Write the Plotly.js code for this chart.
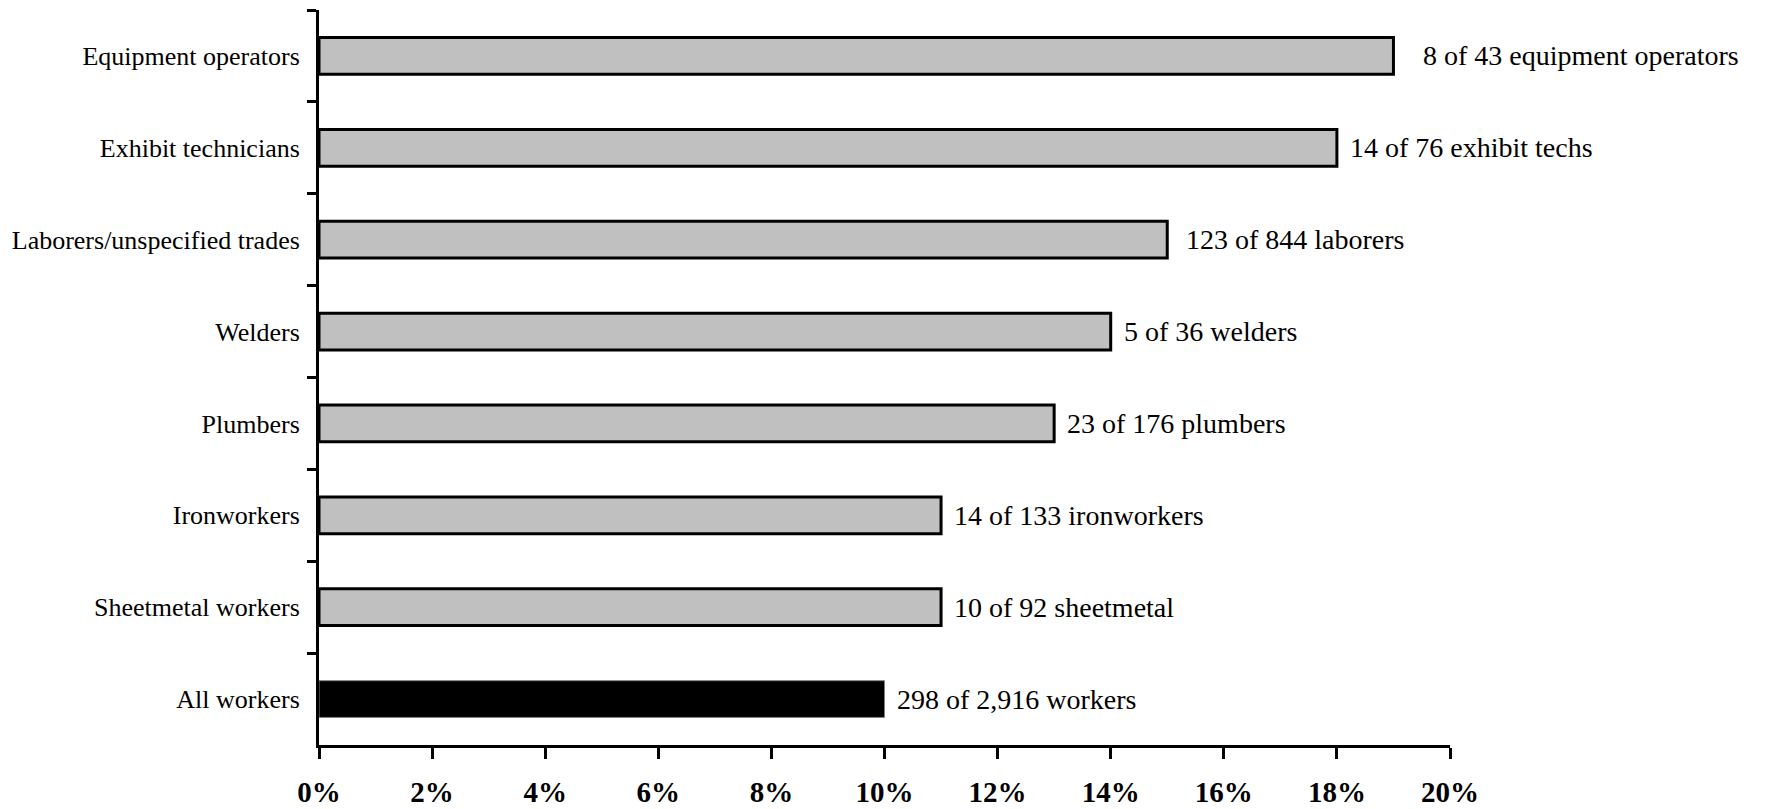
<!DOCTYPE html>
<html>
<head>
<meta charset="utf-8">
<script src="https://cdn.plot.ly/plotly-3.0.1.min.js"></script>
<style>
  html, body { margin: 0; padding: 0; background: #ffffff; }
  #chart { width: 1767px; height: 809px; }
</style>
</head>
<body>
<div id="chart"></div>
<script>
// Occupations, listed top to bottom
const categories = [
  "Equipment operators",
  "Exhibit technicians",
  "Laborers/unspecified trades",
  "Welders",
  "Plumbers",
  "Ironworkers",
  "Sheetmetal workers",
  "All workers"
];

// Share of workers affected, percent
const percentValues = [19, 18, 15, 14, 13, 11, 11, 10];

// Count labels shown beside each bar
const countLabels = [
  "8 of 43 equipment operators",
  "14 of 76 exhibit techs",
  "123 of 844 laborers",
  "5 of 36 welders",
  "23 of 176 plumbers",
  "14 of 133 ironworkers",
  "10 of 92 sheetmetal",
  "298 of 2,916 workers"
];

// X axis tick values
const xTickValues = [0, 2, 4, 6, 8, 10, 12, 14, 16, 18, 20];
const xTickLabels = xTickValues.map(v => v + "%");

const serif = "Liberation Serif, Times New Roman, serif";

// the overall group is drawn in black, the trades in grey
const barFill = categories.map(c => c === "All workers" ? "#000000" : "#c0c0c0");
const barLineColor = categories.map(c => c === "All workers" ? "#808080" : "#000000");
const barLineWidth = categories.map(c => c === "All workers" ? 1 : 3);
// gap between bar end and its label
const labelGap = [28, 11, 17, 11, 11, 11, 11, 10];

const trace = {
  type: "bar",
  orientation: "h",
  x: percentValues,
  y: categories,
  marker: {
    color: barFill,
    line: { color: barLineColor, width: barLineWidth }
  },
  width: 0.4,
  hoverinfo: "skip",
  showlegend: false
};

const annotations = categories.map((c, i) => ({
  x: percentValues[i],
  y: c,
  xref: "x",
  yref: "y",
  text: countLabels[i],
  showarrow: false,
  xanchor: "left",
  yanchor: "middle",
  xshift: labelGap[i],
  font: { family: serif, size: 28, color: "#000000" }
}));

const layout = {
  width: 1767,
  height: 809,
  margin: { l: 319, r: 317, t: 10, b: 64, pad: 0 },
  paper_bgcolor: "#ffffff",
  plot_bgcolor: "#ffffff",
  xaxis: {
    range: [0, 20],
    tickmode: "array",
    tickvals: xTickValues,
    ticktext: xTickLabels,
    ticks: "outside",
    ticklen: 11,
    tickwidth: 3,
    tickcolor: "#000000",
    showline: true,
    linecolor: "#000000",
    linewidth: 3,
    showgrid: false,
    zeroline: false,
    ticklabelstandoff: 8,
    tickfont: { family: serif, size: 29, color: "#000000", weight: "bold" },
    fixedrange: true
  },
  yaxis: {
    type: "category",
    categoryorder: "array",
    categoryarray: categories,
    range: [7.5, -0.5],
    ticks: "outside",
    tickson: "boundaries",
    ticklen: 9,
    tickwidth: 3,
    tickcolor: "#000000",
    showline: true,
    linecolor: "#000000",
    linewidth: 3,
    showgrid: false,
    zeroline: false,
    ticklabelstandoff: 11,
    tickfont: { family: serif, size: 26, color: "#000000" },
    fixedrange: true
  },
  annotations: annotations,
  font: { family: serif, color: "#000000" }
};

Plotly.newPlot("chart", [trace], layout, { displayModeBar: false, staticPlot: true });
</script>
</body>
</html>
